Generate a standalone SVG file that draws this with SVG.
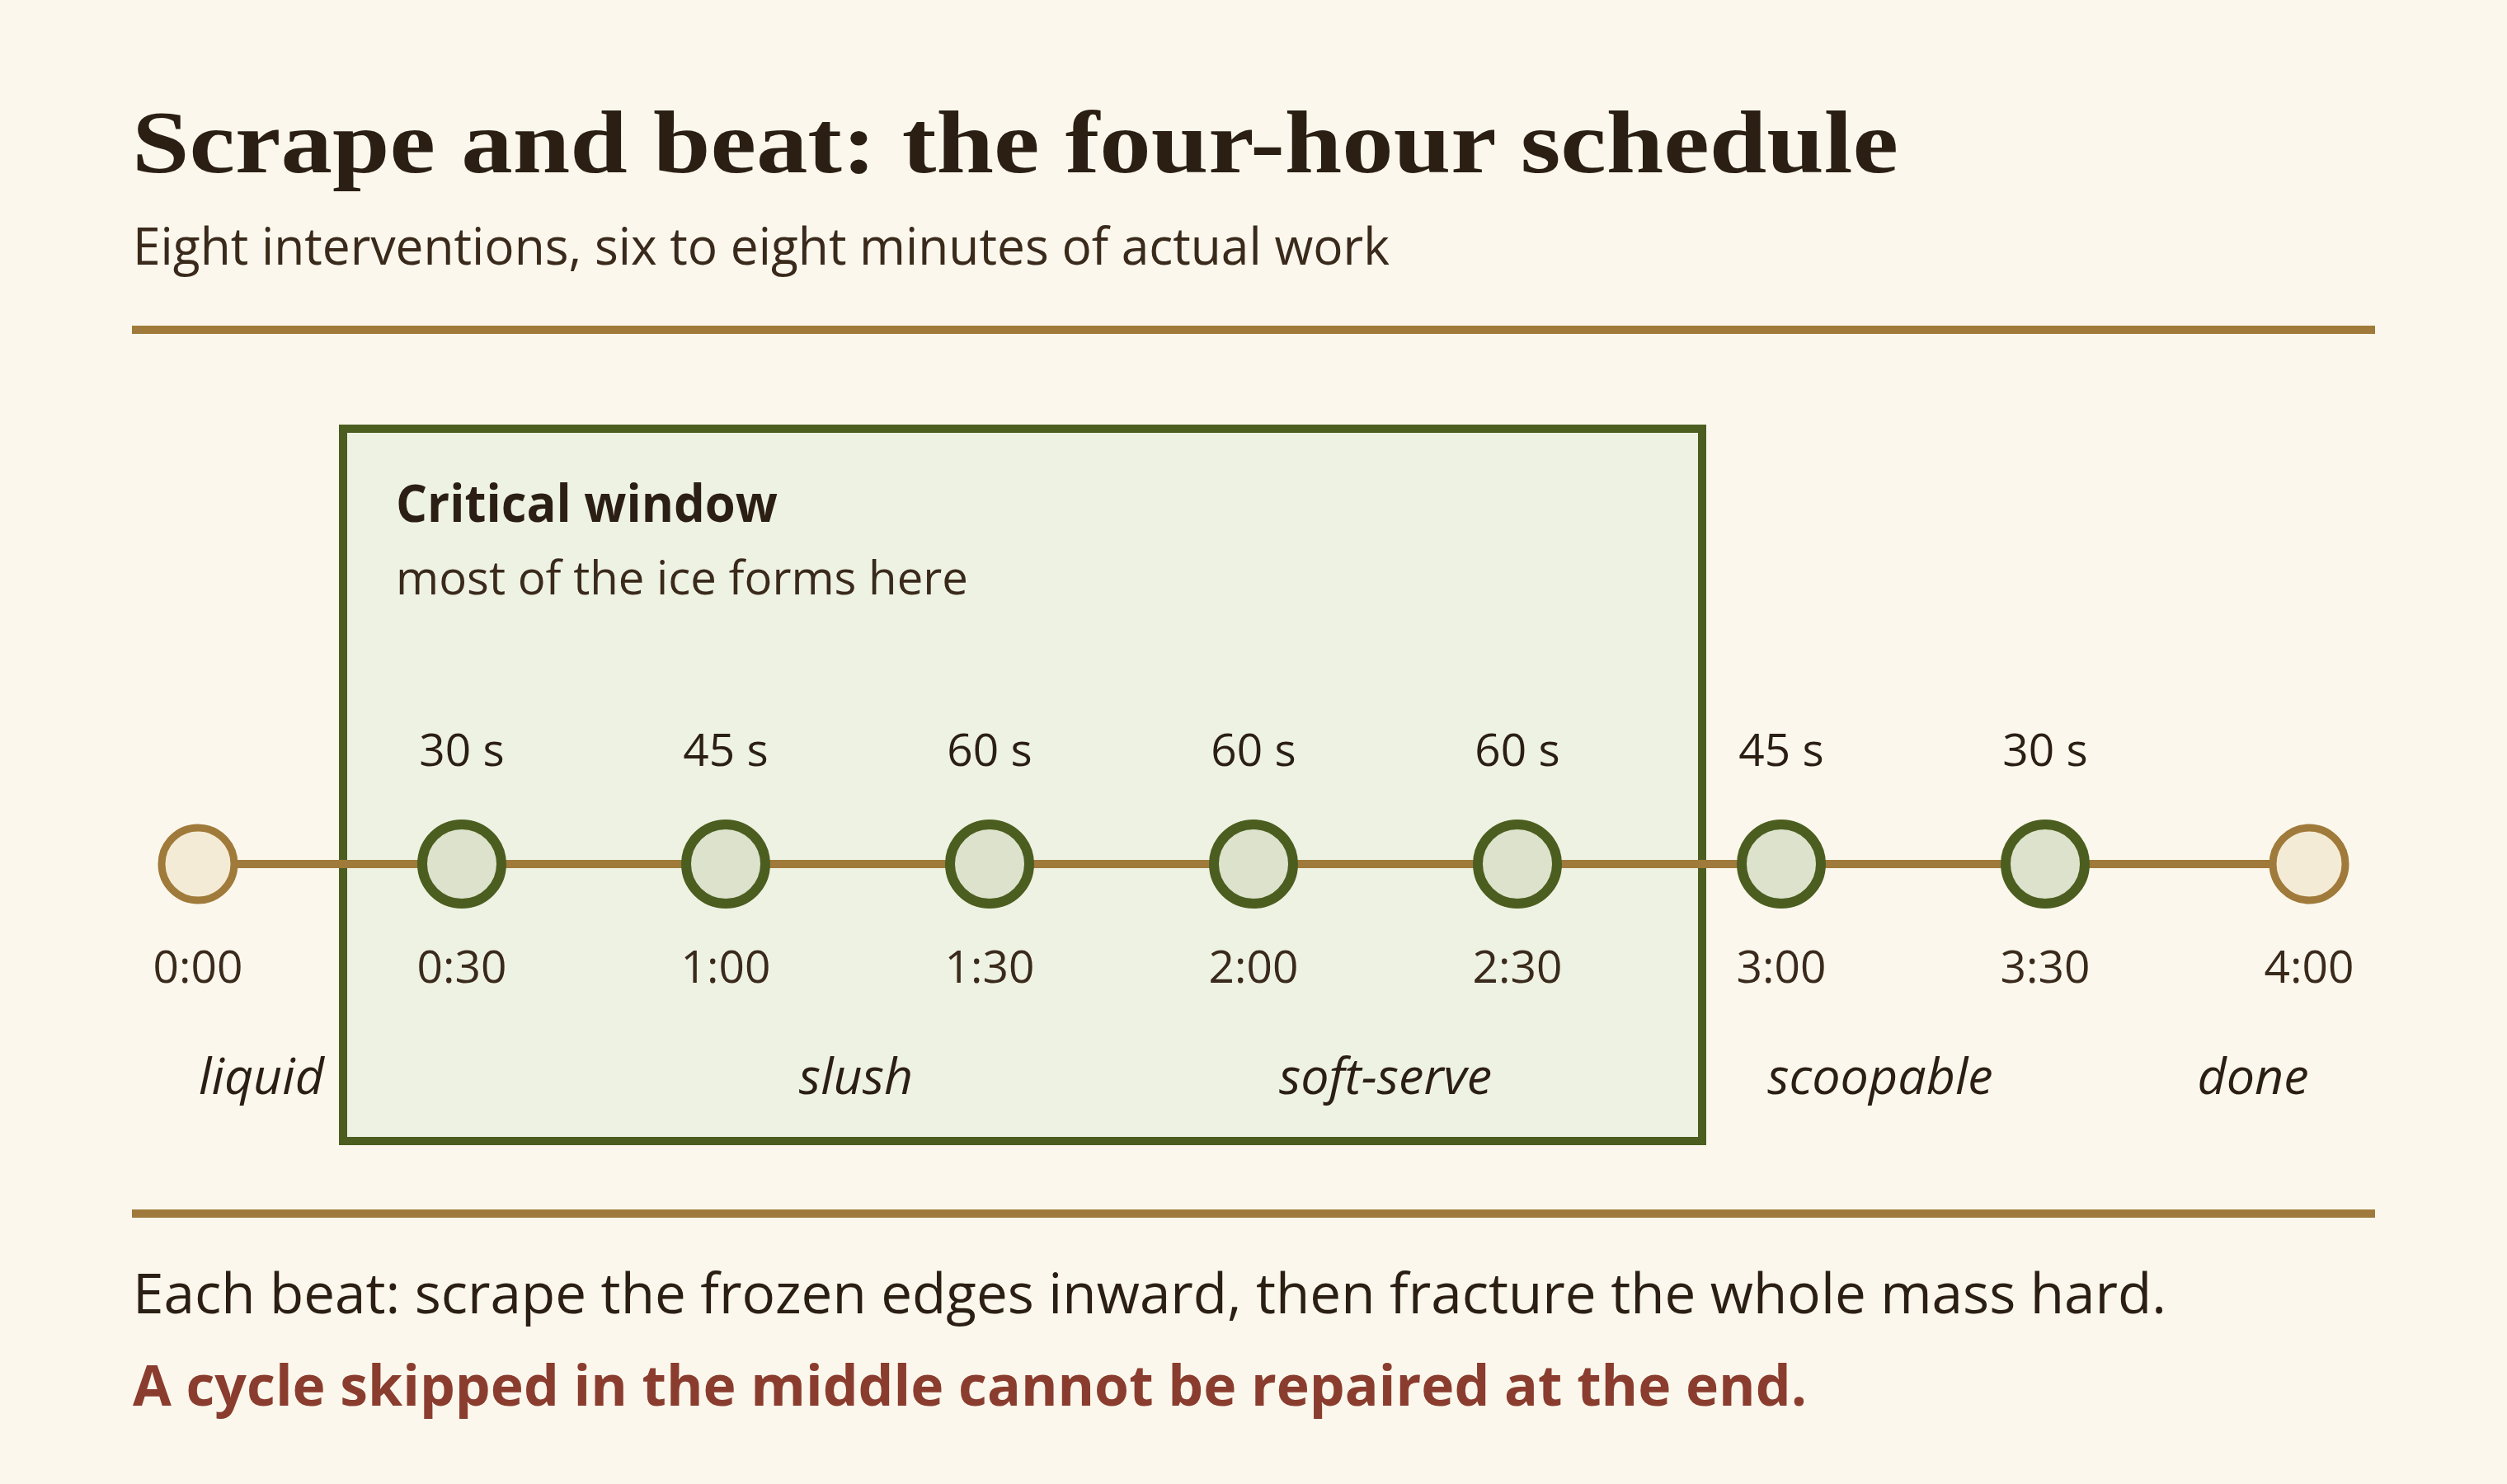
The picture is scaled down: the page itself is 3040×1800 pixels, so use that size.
<svg xmlns="http://www.w3.org/2000/svg" width="3040" height="1800" viewBox="0 0 3040 1800">
  <defs>
    <style>
      .bg { fill: #FBF7EC; }
      .rule { stroke: #A07A3A; stroke-width: 10; }
      .title { font-family: "Liberation Serif", "DejaVu Serif", serif; font-weight: bold; font-size: 108px; fill: #2B1F14; }
      .sans { font-family: "Open Sans", "Noto Sans", "Liberation Sans", sans-serif; fill: #3A2A1C; }
      .sub { font-size: 62px; }
      .win { fill: #EEF2E3; stroke: #4B5E20; stroke-width: 10; }
      .winTitle { font-size: 62px; font-weight: bold; fill: #2B1F14; }
      .winSub { font-size: 56px; }
      .dur { font-size: 55px; text-anchor: middle; fill: #2B1F14; }
      .time { font-size: 55px; text-anchor: middle; }
      .phase { font-size: 61px; font-style: italic; text-anchor: middle; fill: #2B1F14; }
      .track { stroke: #A07A3A; stroke-width: 10; fill: none; }
      .end { fill: #F4EBD6; stroke: #A07A3A; stroke-width: 9; }
      .beat { fill: #DCE2CC; stroke: #4B5E20; stroke-width: 12; }
      .foot { font-size: 68px; fill: #2B1F14; }
      .warn { font-size: 68px; font-weight: bold; fill: #8A3D2E; }
    </style>
  </defs>

  <rect class="bg" x="0" y="0" width="3040" height="1800"/>

  <g id="header">
    <text class="title" x="160" y="209" textLength="2142" lengthAdjust="spacingAndGlyphs">Scrape and beat: the four-hour schedule</text>
    <text class="sans sub" x="161" y="321" textLength="1524" lengthAdjust="spacingAndGlyphs">Eight interventions, six to eight minutes of actual work</text>
    <line class="rule" x1="160" y1="400" x2="2880" y2="400"/>
  </g>

  <g id="critical-window">
    <rect class="win" x="416" y="520" width="1648" height="864"/>
    <text class="sans winTitle" x="480" y="633" textLength="463" lengthAdjust="spacingAndGlyphs">Critical window</text>
    <text class="sans winSub" x="480" y="721" textLength="694" lengthAdjust="spacingAndGlyphs">most of the ice forms here</text>
  </g>

  <g id="connectors">
    <line class="track" x1="240" y1="1048" x2="2800" y2="1048"/>
  </g>

  <g id="node-0-00">
    <circle class="end" cx="240" cy="1048" r="44"/>
    <text class="sans time" x="240" y="1192">0:00</text>
  </g>
  <g id="node-0-30">
    <text class="sans dur" x="560" y="929">30 s</text>
    <circle class="beat" cx="560" cy="1048" r="48"/>
    <text class="sans time" x="560" y="1192">0:30</text>
  </g>
  <g id="node-1-00">
    <text class="sans dur" x="880" y="929">45 s</text>
    <circle class="beat" cx="880" cy="1048" r="48"/>
    <text class="sans time" x="880" y="1192">1:00</text>
  </g>
  <g id="node-1-30">
    <text class="sans dur" x="1200" y="929">60 s</text>
    <circle class="beat" cx="1200" cy="1048" r="48"/>
    <text class="sans time" x="1200" y="1192">1:30</text>
  </g>
  <g id="node-2-00">
    <text class="sans dur" x="1520" y="929">60 s</text>
    <circle class="beat" cx="1520" cy="1048" r="48"/>
    <text class="sans time" x="1520" y="1192">2:00</text>
  </g>
  <g id="node-2-30">
    <text class="sans dur" x="1840" y="929">60 s</text>
    <circle class="beat" cx="1840" cy="1048" r="48"/>
    <text class="sans time" x="1840" y="1192">2:30</text>
  </g>
  <g id="node-3-00">
    <text class="sans dur" x="2160" y="929">45 s</text>
    <circle class="beat" cx="2160" cy="1048" r="48"/>
    <text class="sans time" x="2160" y="1192">3:00</text>
  </g>
  <g id="node-3-30">
    <text class="sans dur" x="2480" y="929">30 s</text>
    <circle class="beat" cx="2480" cy="1048" r="48"/>
    <text class="sans time" x="2480" y="1192">3:30</text>
  </g>
  <g id="node-4-00">
    <circle class="end" cx="2800" cy="1048" r="44"/>
    <text class="sans time" x="2800" y="1192">4:00</text>
  </g>

  <g id="phases">
    <text class="sans phase" x="317" y="1327">liquid</text>
    <text class="sans phase" x="1038" y="1327">slush</text>
    <text class="sans phase" x="1680" y="1327">soft-serve</text>
    <text class="sans phase" x="2280" y="1327">scoopable</text>
    <text class="sans phase" x="2732" y="1327">done</text>
  </g>

  <g id="footer">
    <line class="rule" x1="160" y1="1472" x2="2880" y2="1472"/>
    <text class="sans foot" x="161" y="1593" textLength="2466" lengthAdjust="spacingAndGlyphs">Each beat: scrape the frozen edges inward, then fracture the whole mass hard.</text>
    <text class="sans warn" x="161" y="1705" textLength="2030" lengthAdjust="spacingAndGlyphs">A cycle skipped in the middle cannot be repaired at the end.</text>
  </g>
</svg>
